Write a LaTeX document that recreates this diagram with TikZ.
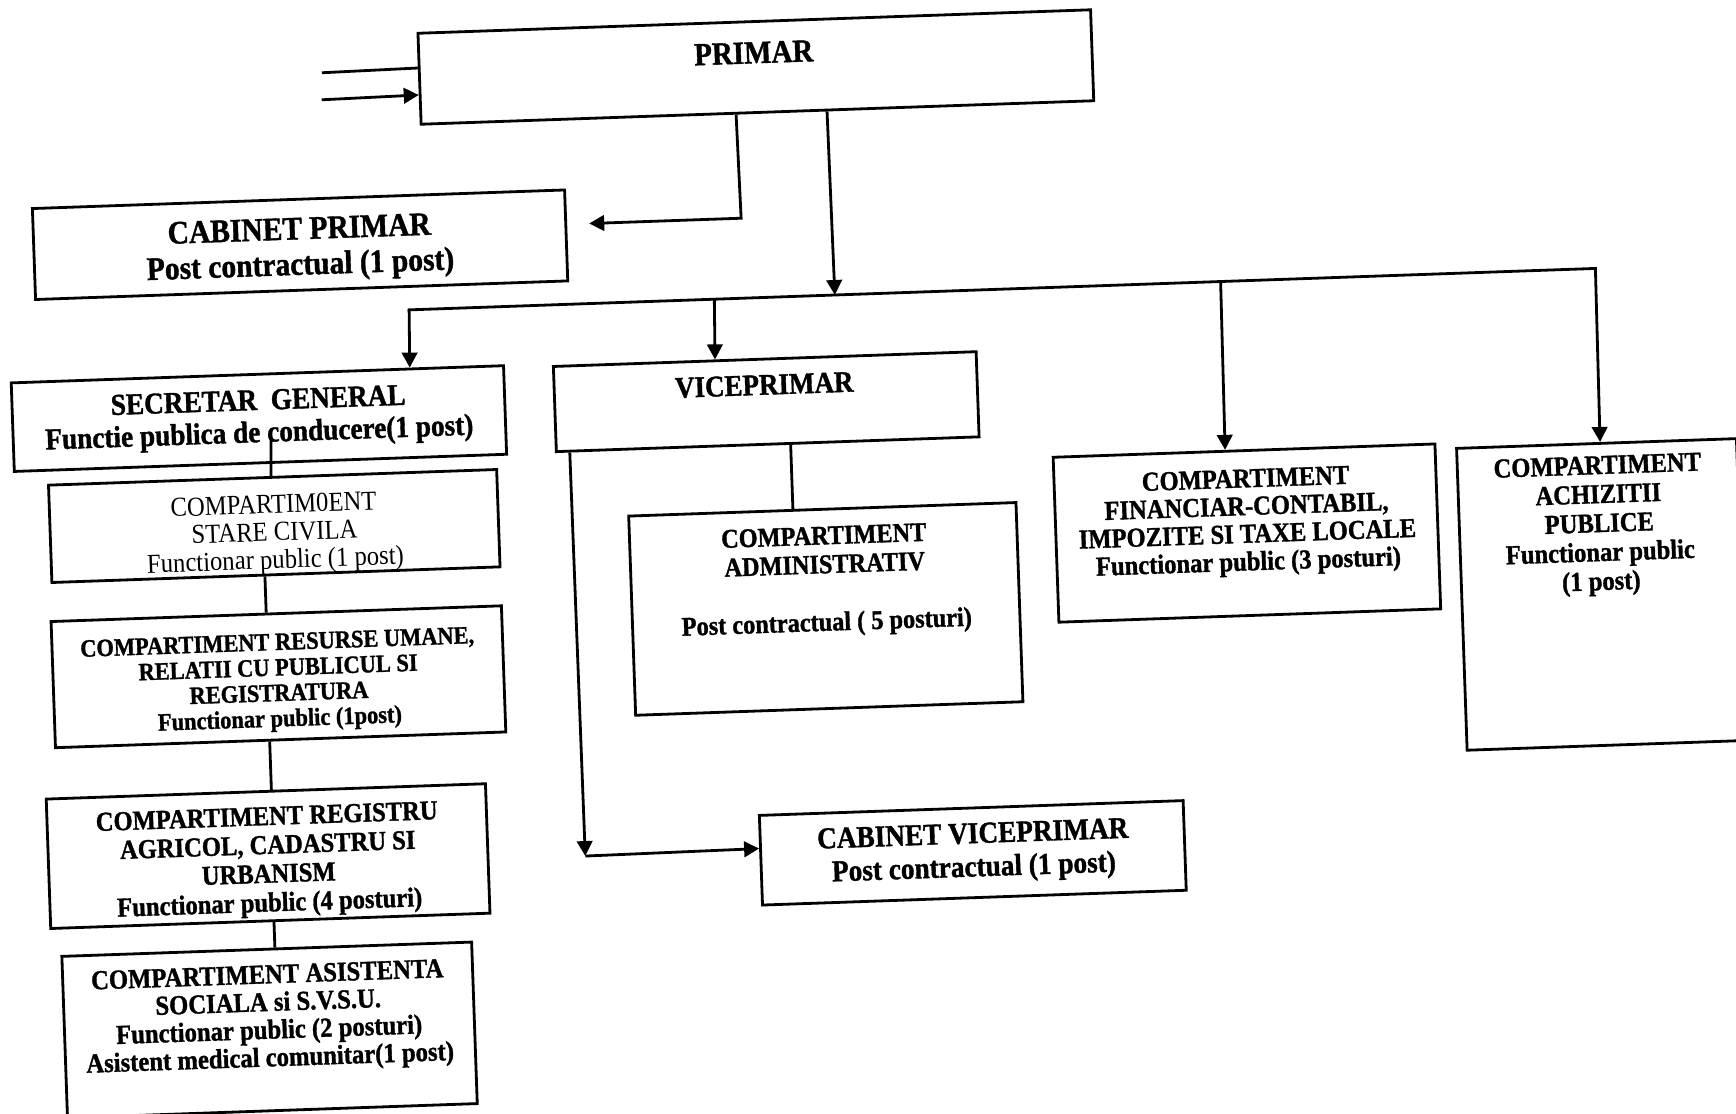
\documentclass[tikz,border=0pt]{standalone}
\usepackage{fontspec}
\setmainfont{Liberation Serif}[FakeStretch=0.9, BoldFeatures={FakeBold=1.2}]
\usetikzlibrary{arrows.meta,calc}
\newcommand\myfs[2]{\fontsize{#1}{#2}\selectfont}
\begin{document}
\begin{tikzpicture}[x=1pt,y=-1pt,
  box/.style={draw, line width=2.8pt, inner sep=0pt},
  lbl/.style={align=center, inner sep=0pt},
  con/.style={line width=2.8pt, line join=miter},
  arr/.style={con, -{Triangle[length=15pt,width=15.5pt]}},
]
\fill[white] (0,0) rectangle (1736,1113);
\useasboundingbox (0,0) rectangle (1736,1113);
\clip (0,0) rectangle (1736,1113);
\begin{scope}[rotate around={2:(868,556.5)}, transform shape]
% boxes
\node[box, minimum width=673pt, minimum height=91pt] (primar) at (773,63.4) {};
\node[box, minimum width=532.5pt, minimum height=91pt] (cabp) at (311.3,225.1) {};
\node[box, minimum width=492.6pt, minimum height=88.6pt] (sec) at (264.1,397.4) {};
\node[box, minimum width=448.4pt, minimum height=97.4pt] (stare) at (275.7,505.3) {};
\node[box, minimum width=450.6pt, minimum height=126.2pt] (res) at (274.6,656.1) {};
\node[box, minimum width=439.5pt, minimum height=129.5pt] (reg) at (258,835) {};
\node[box, minimum width=410pt, minimum height=161.6pt] (asis) at (253.4,1008.8) {};
\node[box, minimum width=423pt, minimum height=85.2pt] (vice) at (771.7,398.2) {};
\node[box, minimum width=387.5pt, minimum height=199.3pt] (admin) at (824,607.4) {};
\node[box, minimum width=424pt, minimum height=89.7pt] (cabv) at (962.4,856.3) {};
\node[box, minimum width=382pt, minimum height=165pt] (fin) at (1247.5,546.3) {};
\node[box, minimum width=280pt, minimum height=302pt] (achiz) at (1600,620) {};
% texts
\node[lbl, font=\myfs{32.2}{38}\bfseries] (primar-t) at (771.4,49) {PRIMAR};
\node[lbl, font=\myfs{32.8}{35.5}\bfseries] (cabp-t) at (311,230) {CABINET PRIMAR\\Post contractual (1 post)};
\node[lbl, font=\myfs{30.3}{32.2}\bfseries] (sec-t) at (264,398) {SECRETAR\ \ GENERAL\\Functie publica de conducere(1 post)};
\node[lbl, font=\myfs{27.4}{27.7}] (stare-t) at (275.7,514) {COMPARTIM0ENT\\STARE CIVILA\\Functionar public (1 post)};
\node[lbl, font=\myfs{24.9}{25.5}\bfseries] (res-t) at (274.6,662) {COMPARTIMENT RESURSE UMANE,\\RELATII CU PUBLICUL SI\\REGISTRATURA\\Functionar public (1post)};
\node[lbl, font=\myfs{27.3}{28.8}\bfseries] (reg-t) at (258,841) {COMPARTIMENT REGISTRU\\AGRICOL, CADASTRU SI\\URBANISM\\Functionar public (4 posturi)};
\node[lbl, font=\myfs{27.4}{27.7}\bfseries] (asis-t) at (253,997.5) {COMPARTIMENT ASISTENTA\\SOCIALA si S.V.S.U.\\Functionar public (2 posturi)\\Asistent medical comunitar(1 post)};
\node[lbl, font=\myfs{30}{34}\bfseries] (vice-t) at (770.3,381.5) {VICEPRIMAR};
\node[lbl, font=\myfs{27}{28.8}\bfseries] (admin-t) at (824.5,580) {COMPARTIMENT\\ADMINISTRATIV\\[28.8pt]Post contractual ( 5 posturi)};
\node[lbl, font=\myfs{30.3}{33.3}\bfseries] (cabv-t) at (963,856.5) {CABINET VICEPRIMAR\\Post contractual (1 post)};
\node[lbl, font=\myfs{27.3}{27.7}\bfseries] (fin-t) at (1248,536) {COMPARTIMENT\\FINANCIAR-CONTABIL,\\IMPOZITE SI TAXE LOCALE\\Functionar public (3 posturi)};
\node[lbl, font=\myfs{27.3}{29}\bfseries] (achiz-t) at (1600,551.5) {COMPARTIMENT\\ACHIZITII\\PUBLICE\\Functionar public\\(1 post)};
% free ends
\coordinate (in1) at (339,54);
\coordinate (in2) at (338,81);
\coordinate (ca) at (753,214);
\coordinate (cpA) at (601,214);
\coordinate (bus) at (844,294);
\coordinate (busL) at (418,294);
\coordinate (busR) at (1605,294);
\coordinate (dv) at (723.4,294);
\coordinate (df) at (1230,294);
\coordinate (l1) at (275.5,418);
\coordinate (vc) at (575,846);
% connectors
\draw[con] (in1) -- ($(primar.north west)!36.1pt!(primar.south west)$);
\draw[arr] (in2) -- ($(primar.north west)!63.1pt!(primar.south west)$);
\draw[arr] ($(primar.south west)!316.5pt!(primar.south east)$) -- (ca) -- (cpA);
\draw[arr] ($(primar.south west)!407.5pt!(primar.south east)$) -- (bus);
\draw[con, line cap=rect] (busL) -- (busR);
\draw[arr] (busL) -- ($(sec.north west)!400.2pt!(sec.north east)$);
\draw[arr] (dv) -- ($(vice.north west)!163.2pt!(vice.north east)$);
\draw[arr] (df) -- ($(fin.north west)!173.5pt!(fin.north east)$);
\draw[arr] (busR) -- ($(achiz.north west)!145pt!(achiz.north east)$);
\draw[con] (l1) -- ($(stare.north west)!224pt!(stare.north east)$);
\draw[con] ($(stare.south west)!214.5pt!(stare.south east)$) -- ($(res.north west)!216.7pt!(res.north east)$);
\draw[con] ($(res.south west)!215.7pt!(res.south east)$) -- ($(reg.north west)!226.75pt!(reg.north east)$);
\draw[con] ($(reg.south west)!224.75pt!(reg.south east)$) -- ($(asis.north west)!214.6pt!(asis.north east)$);
\draw[con] ($(vice.south west)!235.8pt!(vice.south east)$) -- ($(admin.north west)!165.75pt!(admin.north east)$);
\draw[arr] ($(vice.south west)!14.8pt!(vice.south east)$) -- (vc);
\draw[arr] (vc) -- ($(cabv.north west)!34.55pt!(cabv.south west)$);
\end{scope}
\end{tikzpicture}
\end{document}
